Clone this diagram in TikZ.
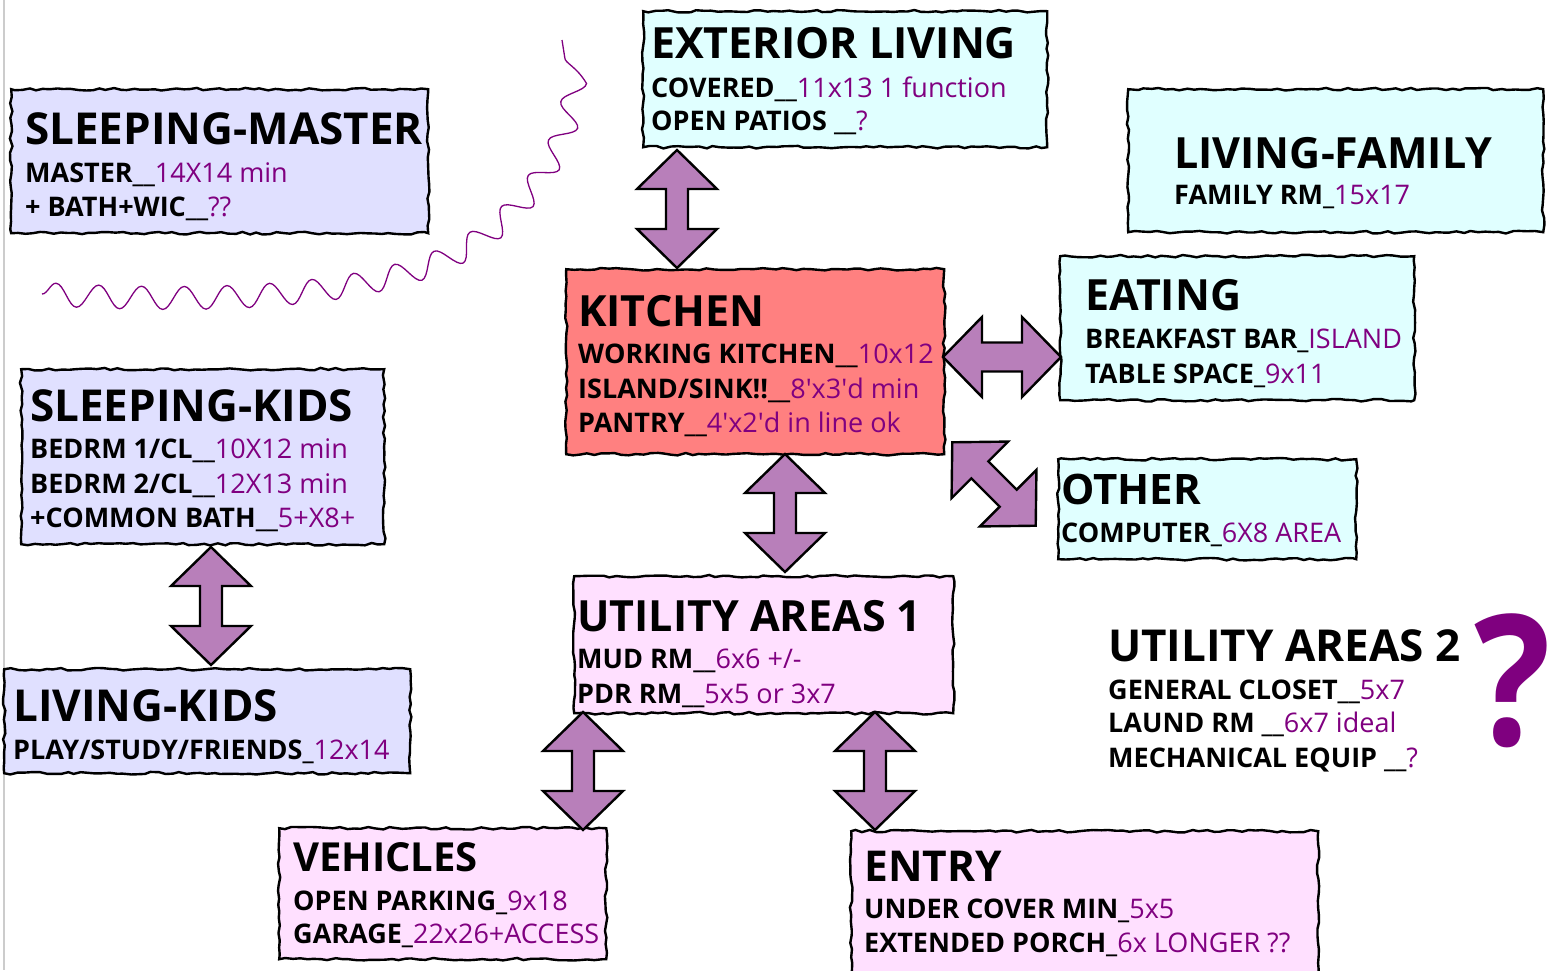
\documentclass[tikz,border=0pt]{standalone}
\usepackage{fontspec}
\setmainfont{Open Sans}
\usetikzlibrary{decorations.pathmorphing,calc}
\definecolor{valcol}{HTML}{800080}
\definecolor{lav}{HTML}{E0E0FF}
\definecolor{cya}{HTML}{E0FFFF}
\definecolor{pnk}{HTML}{FFE0FF}
\definecolor{kitc}{HTML}{FF8080}
\definecolor{arrfill}{HTML}{B87FBA}
\definecolor{qcol}{HTML}{7F007F}
\newcommand\vv[1]{\textcolor{valcol}{\mdseries #1}}
\newcommand\qs{\textquotesingle}
\pgfmathsetseed{7}
\begin{document}
\begin{tikzpicture}[x=1pt,y=-1pt,
  box/.style={draw=black, line width=2.4pt, rectangle, inner sep=0pt, anchor=north west,
    decorate, decoration={random steps, segment length=7pt, amplitude=1.3pt}},
  ttl/.style={anchor=base west, inner sep=0pt, font=\fontsize{#1}{#1}\selectfont\bfseries},
  ttl/.default=43,
  sub/.style={anchor=base west, inner sep=0pt, font=\fontsize{27}{27}\selectfont\bfseries},
  arr/.style={draw=black, fill=arrfill, line width=2.4pt, line join=miter},
  dbl/.pic={\draw[arr] (-59,0) -- (-20,-40) -- (-20,-#1) -- (20,-#1) -- (20,-40) -- (59,0)
     -- (20,40) -- (20,#1) -- (-20,#1) -- (-20,40) -- cycle;},
  wave/.style={draw=valcol, line width=1.3pt, decorate, decoration={snake, amplitude=11.5pt, segment length=43pt}}
]
\fill[white] (0,0) rectangle (1554,970);
\useasboundingbox (0,0) rectangle (1554,970);
\draw[black!20, line width=1.5pt] (4,0) -- (4,970);

% wave
\coordinate (w1) at (42,294);
\coordinate (w2) at (470,238);
\coordinate (w3) at (562,40);
\draw[wave] (w1) .. controls (250,305) and (400,290) .. (w2) .. controls (540,188) and (575,110) .. (w3);

% boxes
\node[box, fill=lav, minimum width=417, minimum height=144] (sm) at (10,88) {};
\node[box, fill=cya, minimum width=404, minimum height=136] (ext) at (642,10) {};
\node[box, fill=cya, minimum width=415, minimum height=143] (lf) at (1127,88) {};
\node[box, fill=kitc, minimum width=378, minimum height=185] (kit) at (565,268) {};
\node[box, fill=cya, minimum width=354, minimum height=144] (eat) at (1059,255) {};
\node[box, fill=cya, minimum width=298, minimum height=100] (oth) at (1057,458) {};
\node[box, fill=lav, minimum width=363, minimum height=175] (sk) at (20,368) {};
\node[box, fill=lav, minimum width=406, minimum height=104] (lk) at (3,668) {};
\node[box, fill=pnk, minimum width=379, minimum height=137] (ua) at (573,575) {};
\node[box, fill=pnk, minimum width=327, minimum height=131] (veh) at (278,827) {};
\node[box, fill=pnk, minimum width=467, minimum height=160] (ent) at (850,830) {};

% texts
\node[ttl=44] (sm-t) at (25,144) {SLEEPING-MASTER};
\node[sub] (sm-1) at (25,182) {MASTER\_\_\vv{14X14 min}};
\node[sub] (sm-2) at (25,216) {+ BATH+WIC\_\_\vv{??}};

\node[ttl=43] (ext-t) at (651,58) {EXTERIOR LIVING};
\node[sub] (ext-1) at (651,97) {COVERED\_\_\vv{11x13 1 function}};
\node[sub] (ext-2) at (651,130) {OPEN PATIOS \_\_\vv{?}};

\node[ttl=43] (lf-t) at (1174,168) {LIVING-FAMILY};
\node[sub] (lf-1) at (1174,204) {FAMILY RM\_\vv{15x17}};

\node[ttl=43] (kit-t) at (578,326) {KITCHEN};
\node[sub] (kit-1) at (578,363) {WORKING KITCHEN\_\_\vv{10x12}};
\node[sub] (kit-2) at (578,398) {ISLAND/SINK!!\_\_\vv{8\qs x3\qs d min}};
\node[sub] (kit-3) at (578,432) {PANTRY\_\_\vv{4\qs x2\qs d in line ok}};

\node[ttl=43] (eat-t) at (1085,310) {EATING};
\node[sub] (eat-1) at (1085,348) {BREAKFAST BAR\_\vv{ISLAND}};
\node[sub] (eat-2) at (1085,383) {TABLE SPACE\_\vv{9x11}};

\node[ttl=42] (oth-t) at (1061,504) {OTHER};
\node[sub] (oth-1) at (1061,542) {COMPUTER\_\vv{6X8 AREA}};

\node[ttl=44] (sk-t) at (30,421) {SLEEPING-KIDS};
\node[sub] (sk-1) at (30,458) {BEDRM 1/CL\_\_\vv{10X12 min}};
\node[sub] (sk-2) at (30,493) {BEDRM 2/CL\_\_\vv{12X13 min}};
\node[sub] (sk-3) at (30,527) {+COMMON BATH\_\_\vv{5+X8+}};

\node[ttl=44] (lk-t) at (13,721) {LIVING-KIDS};
\node[sub] (lk-1) at (13,759) {PLAY/STUDY/FRIENDS\_\vv{12x14}};

\node[ttl=43] (ua-t) at (577,631) {UTILITY AREAS 1};
\node[sub] (ua-1) at (577,668) {MUD RM\_\_\vv{6x6 +/-}};
\node[sub] (ua-2) at (577,703) {PDR RM\_\_\vv{5x5 or 3x7}};

\node[ttl=40] (veh-t) at (293,871) {VEHICLES};
\node[sub] (veh-1) at (293,910) {OPEN PARKING\_\vv{9x18}};
\node[sub] (veh-2) at (293,943) {GARAGE\_\vv{22x26+ACCESS}};

\node[ttl=42.5] (ent-t) at (864,881) {ENTRY};
\node[sub] (ent-1) at (864,918) {UNDER COVER MIN\_\vv{5x5}};
\node[sub] (ent-2) at (864,952) {EXTENDED PORCH\_\vv{6x LONGER ??}};

\node[ttl=44] (ub-t) at (1108,661) {UTILITY AREAS 2};
\node[sub] (ub-1) at (1108,699) {GENERAL CLOSET\_\_\vv{5x7}};
\node[sub] (ub-2) at (1108,732) {LAUND RM \_\_\vv{6x7 ideal}};
\node[sub] (ub-3) at (1108,767) {MECHANICAL EQUIP \_\_\vv{?}};

\node[anchor=base west, inner sep=0pt, text=qcol, font=\fontsize{182}{182}\selectfont\bfseries] (q) at (1474,745) {\scalebox{0.88}[1]{?}};

% double arrows
\pic[rotate=90] at (677,209) {dbl=11};
\pic at (1002,357) {dbl=14.5};
\pic[rotate=90] at (785,513) {dbl=11};
\pic[rotate=90] at (583,771) {dbl=11};
\pic[rotate=90] at (875,771) {dbl=11};
\pic[rotate=90] at (211,606) {dbl=11};
\pic[rotate=-45] at (994,484) {dbl=12};
\end{tikzpicture}
\end{document}
